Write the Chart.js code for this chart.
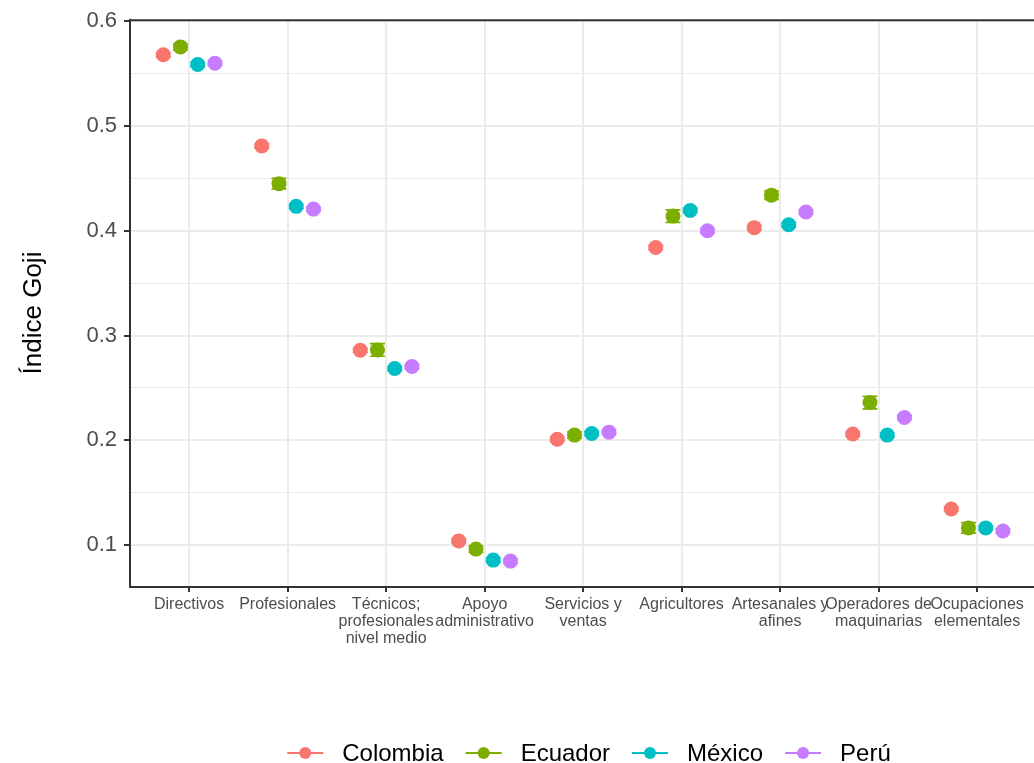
<!DOCTYPE html>
<html>
<head>
<meta charset="utf-8">
<script src="https://cdn.jsdelivr.net/npm/chart.js@4"></script>
<style>
  html, body { margin: 0; padding: 0; background: #fff; overflow: hidden; }
  #wrap { width: 1044px; height: 763px; position: relative; }
</style>
</head>
<body>
<div id="wrap"><canvas id="chart"></canvas></div>
<script>
// ---------------- data ----------------
const categories = [
  ['Directivos'], ['Profesionales'], ['Técnicos;', 'profesionales', 'nivel medio'],
  ['Apoyo', 'administrativo'], ['Servicios y', 'ventas'], ['Agricultores'],
  ['Artesanales y', 'afines'], ['Operadores de', 'maquinarias'], ['Ocupaciones', 'elementales']
];
const countries = ['Colombia', 'Ecuador', 'México', 'Perú'];
const colombia = [0.568, 0.481, 0.286, 0.104, 0.201, 0.384, 0.403, 0.206, 0.1345];
const ecuador  = [0.5755, 0.445, 0.2863, 0.0962, 0.205, 0.414, 0.434, 0.236, 0.1164];
const mexico   = [0.5587, 0.4233, 0.2685, 0.0857, 0.2065, 0.4194, 0.4058, 0.205, 0.1164];
const peru     = [0.560, 0.4207, 0.2704, 0.0847, 0.2078, 0.4001, 0.4179, 0.2218, 0.1135];
// half-width of the error bars
const colombiaErr = [0.002, 0.002, 0.002, 0.002, 0.002, 0.002, 0.002, 0.002, 0.002];
const ecuadorErr  = [0.003, 0.005, 0.006, 0.003, 0.003, 0.006, 0.004, 0.006, 0.005];
const mexicoErr   = [0.002, 0.002, 0.002, 0.002, 0.002, 0.002, 0.002, 0.002, 0.002];
const peruErr     = [0.002, 0.002, 0.002, 0.002, 0.002, 0.002, 0.002, 0.002, 0.002];
const yMajor = [0.1, 0.2, 0.3, 0.4, 0.5, 0.6];
const yMinor = [0.15, 0.25, 0.35, 0.45, 0.55];
const yTitle = 'Índice Goji';

const colors = ['#F8766D', '#7CAE00', '#00BFC4', '#C77CFF'];
const dodge = [-0.2625, -0.0875, 0.0875, 0.2625];
const series = [colombia, ecuador, mexico, peru];
const errors = [colombiaErr, ecuadorErr, mexicoErr, peruErr];
const FONT = '"Liberation Sans", Arial, Helvetica, sans-serif';

const datasets = countries.map((name, i) => ({
  label: name,
  data: series[i].map((v, j) => ({ x: j + dodge[i], y: v })),
  backgroundColor: colors[i],
  borderColor: colors[i],
  borderWidth: 0,
  pointRadius: 7.5,
  pointHoverRadius: 7.5,
  showLine: false
}));

// error bars, drawn through the scales
const errorBars = {
  id: 'errorBars',
  beforeDatasetsDraw(chart) {
    const { ctx, scales: { x, y } } = chart;
    ctx.save();
    ctx.lineWidth = 1.6;
    series.forEach((vals, i) => {
      ctx.strokeStyle = colors[i];
      vals.forEach((v, j) => {
        const px = x.getPixelForValue(j + dodge[i]);
        const lo = y.getPixelForValue(v - errors[i][j]);
        const hi = y.getPixelForValue(v + errors[i][j]);
        ctx.beginPath();
        ctx.moveTo(px, lo); ctx.lineTo(px, hi);
        ctx.moveTo(px - 7.5, lo); ctx.lineTo(px + 7.5, lo);
        ctx.moveTo(px - 7.5, hi); ctx.lineTo(px + 7.5, hi);
        ctx.stroke();
      });
    });
    ctx.restore();
  }
};

// top border of the panel, y title and bottom legend
const frameAndLegend = {
  id: 'frameAndLegend',
  afterDraw(chart) {
    const { ctx, chartArea } = chart;
    ctx.save();
    ctx.strokeStyle = '#333333';
    ctx.lineWidth = 2;
    ctx.beginPath();
    ctx.moveTo(chartArea.left, chartArea.top);
    ctx.lineTo(chartArea.right, chartArea.top);
    ctx.stroke();

    // y axis title
    ctx.save();
    ctx.translate(34, 313);
    ctx.rotate(-Math.PI / 2);
    ctx.font = '26px ' + FONT;
    ctx.fillStyle = '#000';
    ctx.textAlign = 'center';
    ctx.textBaseline = 'middle';
    ctx.fillText(yTitle, 0, 0);
    ctx.restore();

    ctx.font = '24px ' + FONT;
    ctx.textBaseline = 'middle';
    const keyW = 36, gap = 19, between = 22;
    const widths = countries.map(c => ctx.measureText(c).width);
    let total = 0;
    widths.forEach((w, i) => { total += keyW + gap + w + (i < widths.length - 1 ? between : 0); });
    let xx = 589 - total / 2;
    const yy = 753;
    countries.forEach((c, i) => {
      ctx.strokeStyle = colors[i];
      ctx.lineWidth = 2;
      ctx.beginPath();
      ctx.moveTo(xx, yy); ctx.lineTo(xx + keyW, yy);
      ctx.stroke();
      ctx.fillStyle = colors[i];
      ctx.beginPath();
      ctx.arc(xx + keyW / 2, yy, 6, 0, Math.PI * 2);
      ctx.fill();
      ctx.fillStyle = '#000';
      ctx.fillText(c, xx + keyW + gap, yy + 1);
      xx += keyW + gap + widths[i] + between;
    });
    ctx.restore();
  }
};

const isMajor = v => yMajor.some(m => Math.abs(m - v) < 1e-9);

new Chart(document.getElementById('chart'), {
  type: 'scatter',
  data: { datasets },
  options: {
    responsive: true,
    maintainAspectRatio: false,
    animation: false,
    devicePixelRatio: 1,
    events: [],
    layout: { padding: { top: 19, right: 0, bottom: 0, left: 0 } },
    plugins: { legend: { display: false }, tooltip: { enabled: false } },
    scales: {
      x: {
        type: 'linear',
        min: -0.6,
        max: 8.603,
        afterFit(scale) { scale.height = 176; },
        afterBuildTicks(scale) { scale.ticks = categories.map((c, i) => ({ value: i })); },
        grid: {
          color: '#EBEBEB', lineWidth: 2,
          tickColor: '#333333', tickLength: 5, tickWidth: 2
        },
        border: { display: true, color: '#333333', width: 2 },
        ticks: {
          autoSkip: false, maxRotation: 0, minRotation: 0, padding: 4,
          color: '#4D4D4D',
          font: { family: FONT, size: 16, lineHeight: 1.06 },
          callback: v => categories[Math.round(v)]
        }
      },
      y: {
        type: 'linear',
        min: 0.06,
        max: 0.601,
        afterFit(scale) { scale.width = 130; },
        afterBuildTicks(scale) {
          scale.ticks = yMajor.concat(yMinor).sort((a, b) => a - b).map(v => ({ value: v }));
        },
        grid: {
          color: '#EBEBEB',
          lineWidth: c => (c.tick && isMajor(c.tick.value)) ? 2 : 1,
          tickColor: c => (c.tick && isMajor(c.tick.value)) ? '#333333' : 'rgba(0,0,0,0)',
          tickLength: 6,
          tickWidth: 2
        },
        border: { display: true, color: '#333333', width: 2 },
        ticks: {
          padding: 7,
          color: '#4D4D4D',
          font: { family: FONT, size: 22 },
          callback: v => isMajor(v) ? v.toFixed(1) : ''
        }
      }
    }
  },
  plugins: [errorBars, frameAndLegend]
});
</script>
</body>
</html>
